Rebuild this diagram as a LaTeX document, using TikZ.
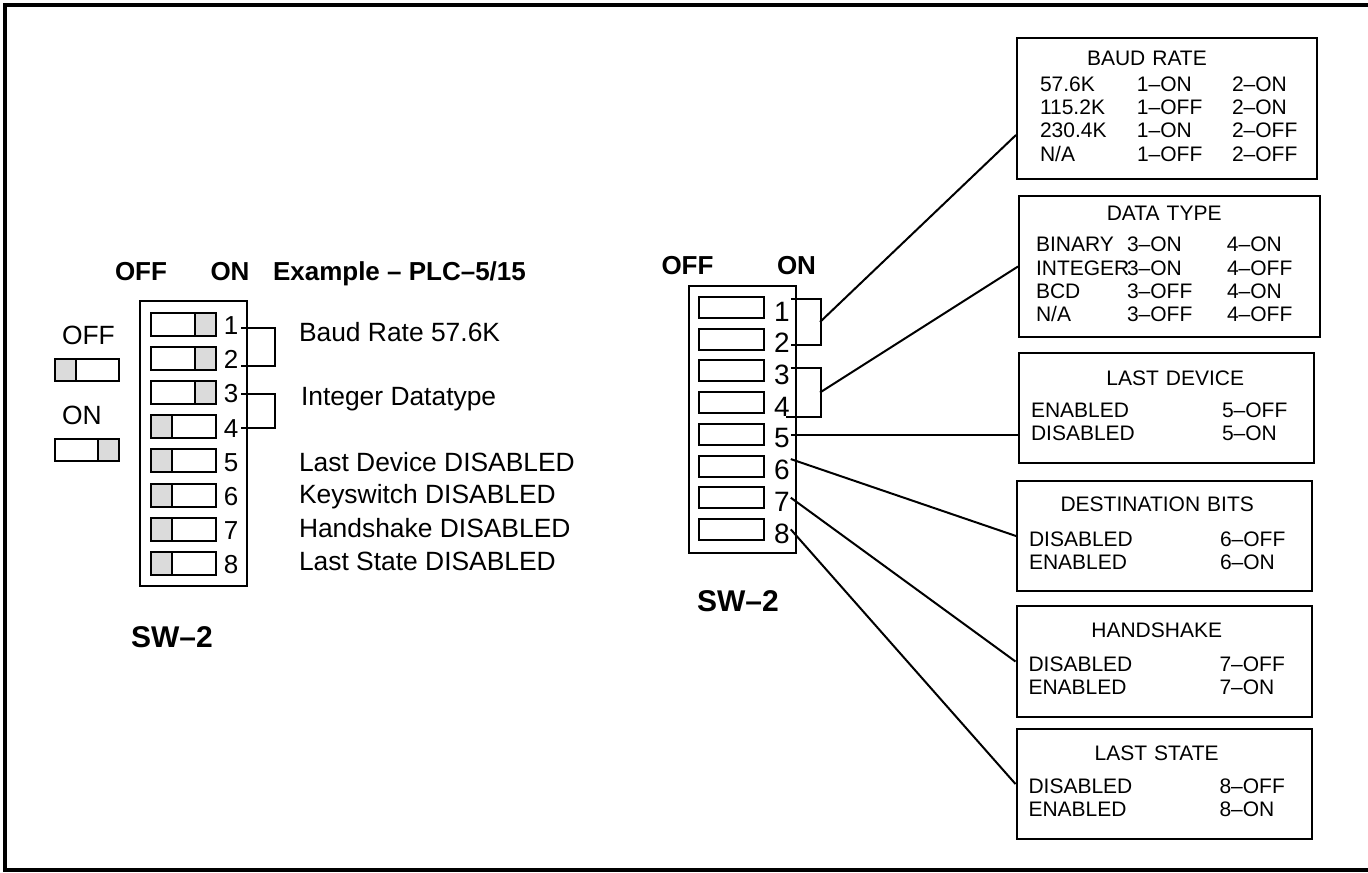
\documentclass[tikz,border=0pt]{standalone}
\usepackage{fontspec}
\setmainfont{Liberation Sans}
\usetikzlibrary{calc}
\definecolor{swgray}{gray}{0.86}
\setlength\tabcolsep{0pt}

\begin{document}
\begin{tikzpicture}[x=0.5pt,y=-0.5pt,line width=1pt,
    hdr/.style={font=\fontsize{13}{15}\selectfont\bfseries,inner sep=0,anchor=base},
    lbl/.style={font=\fontsize{13.2}{15}\selectfont,inner sep=0,anchor=base west},
    ldig/.style={font=\fontsize{13}{15}\selectfont,inner sep=1pt},
    rdig/.style={font=\fontsize{14}{16}\selectfont,inner sep=0},
    swname/.style={font=\fontsize{15}{18}\selectfont\bfseries,inner sep=0},
    infobox/.style={draw,line width=1pt,font=\fontsize{10.5}{11.65}\selectfont,inner ysep=0,inner xsep=6pt,text width=135.5pt,minimum width=147.5pt,minimum height=55pt}]
    \useasboundingbox (0,0) rectangle (1368,872);
    % frame, open on the right
    \draw[line width=2pt] (1368,4.7) -- (5,4.7) -- (5,870) -- (1368,870);

    % example switch
    \node[hdr] (loff) at (141,280) {OFF};
    \node[hdr] (lon) at (230,280) {ON};
    \node[hdr,anchor=base west] (lex) at (272,280) {Example – PLC–5/15};
    \node[lbl] (legoff) at (61,344.5) {OFF};
    \draw (55,359) rectangle (119,381);
    \draw[fill=swgray] (55,359) rectangle (76,381);
    \node[lbl] (legon) at (61,424.5) {ON};
    \draw (55,439) rectangle (119,461);
    \draw[fill=swgray] (98,439) rectangle (119,461);
    \draw (140,301) rectangle (247,586);
    \foreach \i/\sx in {1/195,2/195,3/195,4/151,5/151,6/151,7/151,8/151}{
        \draw (151,{312.5+(\i-1)*34.2}) rectangle ++(65,23);
        \draw[fill=swgray] (\sx,{312.5+(\i-1)*34.2}) rectangle ++(21,23);
        \node[ldig] (l\i) at (231,{325.5+(\i-1)*34.2}) {\i};
    }
    \draw ([yshift=-1pt]l1.east) -- ++(34,0) |- ([yshift=-3pt]l2.east);
    \draw (l3.east) -- ++(34,0) |- (l4.east);
    \node[lbl] (baudtxt) at (298,341.5) {Baud Rate 57.6K};
    \node[lbl] (inttxt) at (300,405.5) {Integer Datatype};
    \node[lbl] (ldtxt) at (298,471.5) {Last Device DISABLED};
    \node[lbl] (kstxt) at (298,503.5) {Keyswitch DISABLED};
    \node[lbl] (hstxt) at (298,537) {Handshake DISABLED};
    \node[lbl] (lstxt) at (298,570.5) {Last State DISABLED};
    \node[swname] (lsw) at (172,637) {SW–2};

    % blank switch
    \node[hdr] (roff) at (687.5,274) {OFF};
    \node[hdr] (ron) at (796.5,274) {ON};
    \draw (689,286) rectangle (796,553);
    \foreach \i in {1,...,8}{
        \draw (699,{297+(\i-1)*31.7}) rectangle ++(65,21);
        \node[rdig] (r\i) at (782,{311.5+(\i-1)*31.7}) {\i};
    }
    \node[swname] (rsw) at (738,601) {SW–2};
    \draw ([yshift=6.25pt]r1.east) -- ++(30,0) |- ([yshift=-0.9pt]r2.east);
    \draw ([yshift=3.45pt]r3.east) -- ++(30,0) |- ([shift={(-5,10.4)}]r4.east);
    \coordinate (m12) at (820,322);
    \coordinate (m34) at (820,392.5);

    % settings
    \node[infobox,inner xsep=11.5pt,text width=127pt,minimum width=150pt,minimum height=70.5pt] (baud) at (1167,108.5) {%
        \begin{tabular}{p{48.5pt}p{47.5pt}l}
        \multicolumn{3}{l}{\hspace{23.5pt}BAUD RATE}\\[1.35pt]
        57.6K & 1–ON & 2–ON\\
        115.2K & 1–OFF & 2–ON\\
        230.4K & 1–ON & 2–OFF\\
        N/A & 1–OFF & 2–OFF
        \end{tabular}};
    \node[infobox,inner xsep=8.5pt,text width=133.5pt,minimum width=150.5pt,minimum height=70.5pt] (dtype) at (1169.5,266.5) {%
        \begin{tabular}{p{45.5pt}p{50pt}l}
        \multicolumn{3}{c}{DATA TYPE}\\[3.85pt]
        BINARY & 3–ON & 4–ON\\
        INTEGER & 3–ON & 4–OFF\\
        BCD & 3–OFF & 4–ON\\
        N/A & 3–OFF & 4–OFF
        \end{tabular}};
    \node[infobox] (lastdev) at (1166.5,408) {%
        \begin{tabular}{p{95.5pt}l}
        \multicolumn{2}{c}{\hspace{16pt}LAST DEVICE}\\[4.35pt]
        ENABLED & 5–OFF\\
        DISABLED & 5–ON
        \end{tabular}};
    \node[infobox] (dest) at (1164.5,536) {%
        \begin{tabular}{p{95.5pt}l}
        \multicolumn{2}{c}{DESTINATION BITS}\\[6pt]
        DISABLED & 6–OFF\\
        ENABLED & 6–ON
        \end{tabular}};
    \node[infobox,minimum height=55.5pt] (hand) at (1164,661.5) {%
        \begin{tabular}{p{95.5pt}l}
        \multicolumn{2}{c}{HANDSHAKE}\\[5.35pt]
        DISABLED & 7–OFF\\
        ENABLED & 7–ON
        \end{tabular}};
    \node[infobox] (lstate) at (1164,784) {%
        \begin{tabular}{p{95.5pt}l}
        \multicolumn{2}{c}{LAST STATE}\\[4.85pt]
        DISABLED & 8–OFF\\
        ENABLED & 8–ON
        \end{tabular}};

    % leaders
    \draw (m12) -- ([yshift=-13.25pt]baud.west);
    \draw (m34) -- (dtype.west);
    \draw ([yshift=1.5pt]r5.east) -- ([yshift=1.5pt]r5.east -| lastdev.west);
    \draw (r6.north east) -- (dest.west);
    \draw ([yshift=2pt]r7.east) -- (hand.west);
    \draw ([yshift=2pt]r8.east) -- (lstate.west);
\end{tikzpicture}
\end{document}
